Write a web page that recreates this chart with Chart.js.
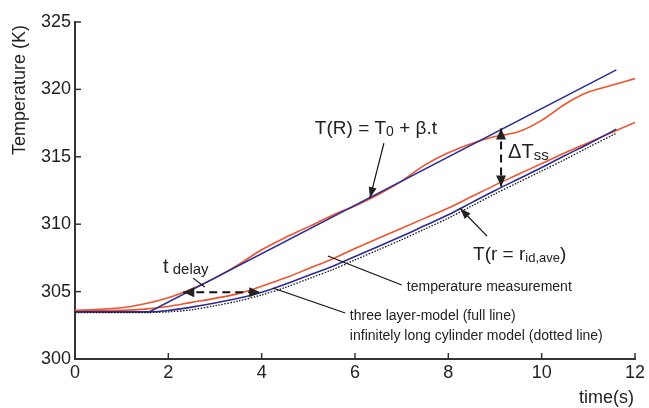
<!DOCTYPE html>
<html>
<head>
<meta charset="utf-8">
<script src="https://cdn.jsdelivr.net/npm/chart.js@4.4.1/dist/chart.umd.min.js"></script>
<style>
  body { margin: 0; background: #fff; }
  canvas { display: block; }
</style>
</head>
<body>
<canvas id="tempChart" width="649" height="408"></canvas>
<script>
  // measured temperature at the outer surface (red, upper)
  const surfMeasTime = [0, 1, 1.5, 2, 2.5, 3, 3.5, 4, 4.5, 5, 5.6, 6, 6.5, 7, 7.5, 8, 8.6, 9, 9.5, 10, 10.5, 11, 11.5, 12];
  const surfMeasTemp = [303.6, 303.8, 304.1, 304.55, 305.2, 306.0, 307.0, 308.1, 309.0, 309.8, 310.8, 311.35, 312.2, 313.2, 314.4, 315.3, 316.1, 316.5, 316.85, 317.7, 318.9, 319.8, 320.3, 320.8];

  // measured temperature at the inner radius (red, lower)
  const innerMeasTime = [0, 1, 1.5, 2, 2.5, 3, 3.5, 4, 4.5, 5, 5.5, 6, 6.5, 7, 7.5, 8, 8.5, 9, 9.5, 10, 10.5, 11, 11.5, 12];
  const innerMeasTemp = [303.6, 303.62, 303.7, 303.9, 304.2, 304.5, 304.85, 305.4, 306.0, 306.7, 307.4, 308.2, 308.95, 309.7, 310.45, 311.2, 312.05, 312.9, 313.7, 314.5, 315.3, 316.05, 316.8, 317.55];

  // imposed boundary temperature T(R) = T0 + beta.t (blue, upper)
  const rampTime = [0, 1.6, 11.6];
  const rampTemp = [303.5, 303.5, 321.45];

  // three layer model at r = r_id,ave (blue, lower)
  const layerTime = [0, 1.6, 2, 2.5, 3, 3.5, 4, 4.5, 5, 5.5, 6, 6.5, 7, 7.5, 8, 8.5, 9, 9.5, 10, 10.5, 11, 11.6];
  const layerTemp = [303.5, 303.5, 303.6, 303.85, 304.15, 304.5, 304.95, 305.55, 306.2, 306.85, 307.6, 308.35, 309.1, 309.9, 310.7, 311.6, 312.5, 313.35, 314.2, 315.1, 315.95, 317.05];

  // infinitely long cylinder model (dotted)
  const cylTime = [0, 1.6, 2, 2.5, 3, 3.5, 4, 4.5, 5, 5.5, 6, 6.5, 7, 7.5, 8, 8.5, 9, 9.5, 10, 10.5, 11, 11.6];
  const cylTemp = [303.45, 303.45, 303.5, 303.65, 303.95, 304.3, 304.75, 305.3, 305.95, 306.6, 307.35, 308.1, 308.85, 309.65, 310.45, 311.35, 312.25, 313.1, 313.95, 314.8, 315.7, 316.75];

  const xTicks = [0, 2, 4, 6, 8, 10, 12];
  const yTicks = [300, 305, 310, 315, 320, 325];

  const RED = '#f0532c';
  const BLUE = '#2b2c96';
  const FONT = '"Liberation Sans", Arial, Helvetica, sans-serif';

  function pts(xs, ys) {
    return xs.map((x, i) => ({ x: x, y: ys[i] }));
  }

  // text with sub parts: [text, size, dy]
  function rich(ctx, x, y, parts) {
    parts.forEach(p => {
      ctx.font = p[1] + 'px ' + FONT;
      ctx.fillText(p[0], x, y + (p[2] || 0));
      x += ctx.measureText(p[0]).width;
    });
  }

  function head(ctx, x1, y1, x2, y2, len, w) {
    const a = Math.atan2(y2 - y1, x2 - x1);
    ctx.beginPath();
    ctx.moveTo(x2, y2);
    ctx.lineTo(x2 - len * Math.cos(a) + w * Math.sin(a), y2 - len * Math.sin(a) - w * Math.cos(a));
    ctx.lineTo(x2 - len * Math.cos(a) - w * Math.sin(a), y2 - len * Math.sin(a) + w * Math.cos(a));
    ctx.closePath();
    ctx.fill();
  }

  function arrow(ctx, x1, y1, x2, y2, opts) {
    opts = opts || {};
    ctx.save();
    ctx.lineWidth = opts.width || 1.2;
    ctx.setLineDash(opts.dash || []);
    ctx.beginPath();
    ctx.moveTo(x1, y1);
    ctx.lineTo(x2, y2);
    ctx.stroke();
    ctx.setLineDash([]);
    if (opts.end) head(ctx, x1, y1, x2, y2, opts.len || 10, opts.half || 4);
    if (opts.start) head(ctx, x2, y2, x1, y1, opts.len || 10, opts.half || 4);
    ctx.restore();
  }

  const notes = {
    id: 'notes',
    afterDraw(chart) {
      const ctx = chart.ctx;
      const xs = chart.scales.x, ys = chart.scales.y;
      const X = v => xs.getPixelForValue(v);
      const Y = v => ys.getPixelForValue(v);
      const area = chart.chartArea;

      ctx.save();
      // inward tick marks
      ctx.strokeStyle = '#333';
      ctx.lineWidth = 1.5;
      xTicks.forEach(t => {
        ctx.beginPath();
        ctx.moveTo(X(t), area.bottom);
        ctx.lineTo(X(t), area.bottom - 6);
        ctx.stroke();
      });
      yTicks.forEach(t => {
        ctx.beginPath();
        ctx.moveTo(area.left, Y(t));
        ctx.lineTo(area.left + 6, Y(t));
        ctx.stroke();
      });

      ctx.fillStyle = '#222';
      ctx.strokeStyle = '#111';
      ctx.textBaseline = 'alphabetic';
      ctx.textAlign = 'left';

      // axis titles
      ctx.font = '18px ' + FONT;
      ctx.save();
      ctx.translate(25, 155);
      ctx.rotate(-Math.PI / 2);
      ctx.fillText('Temperature (K)', 0, 0);
      ctx.restore();
      ctx.textAlign = 'right';
      ctx.fillText('time(s)', 634, 403);
      ctx.textAlign = 'left';

      // T(R) label and arrow
      rich(ctx, X(5.14), Y(316.69), [['T(R) = T', 19], ['0', 14, 2], [' + \u03b2.t', 19]]);
      arrow(ctx, X(6.62), Y(316.02), X(6.32), Y(311.94), { end: true, len: 11, half: 4 });

      // t delay
      rich(ctx, X(1.886), Y(306.38), [['t', 20], [' delay', 15, 1]]);
      arrow(ctx, X(2.53), Y(306.0), X(2.78), Y(305.34), {});
      arrow(ctx, X(2.32), Y(304.95), X(3.97), Y(304.95), { start: true, end: true, dash: [8, 5], width: 2, len: 11, half: 5 });

      // delta T ss
      arrow(ctx, X(9.13), Y(317.1), X(9.13), Y(312.8), { start: true, end: true, dash: [8, 5], width: 2, len: 11, half: 5 });
      rich(ctx, X(9.28), Y(314.91), [['\u0394T', 20], ['ss', 15, 2]]);

      // T(r = r id,ave)
      rich(ctx, X(8.53), Y(307.34), [['T(r = r', 19], ['id,ave', 13, 2], [')', 19]]);
      arrow(ctx, X(8.83), Y(309.12), X(8.25), Y(311.18), { end: true, len: 11, half: 4 });

      // temperature measurement
      ctx.font = '14px ' + FONT;
      ctx.fillText('temperature measurement', X(7.11), Y(305.04));
      arrow(ctx, X(5.42), Y(307.64), X(7.0), Y(305.49), {});

      // models
      ctx.fillText('three layer-model (full line)', X(5.89), Y(302.89));
      ctx.fillText('infinitely long cylinder model (dotted line)', X(5.89), Y(301.41));
      arrow(ctx, X(4.24), Y(305.27), X(5.79), Y(303.41), {});
      ctx.restore();
    }
  };

  const ctx = document.getElementById('tempChart').getContext('2d');
  new Chart(ctx, {
    type: 'line',
    data: {
      datasets: [
        { data: pts(cylTime, cylTemp), borderColor: '#111', borderWidth: 1.3, borderDash: [1.5, 1.5], tension: 0.3 },
        { data: pts(layerTime, layerTemp), borderColor: BLUE, borderWidth: 1.6, tension: 0.3 },
        { data: pts(rampTime, rampTemp), borderColor: BLUE, borderWidth: 1.6, tension: 0 },
        { data: pts(innerMeasTime, innerMeasTemp), borderColor: RED, borderWidth: 1.6, cubicInterpolationMode: 'monotone' },
        { data: pts(surfMeasTime, surfMeasTemp), borderColor: RED, borderWidth: 1.6, cubicInterpolationMode: 'monotone' }
      ]
    },
    options: {
      responsive: false,
      animation: false,
      layout: { padding: { top: 22, right: 14, left: 0, bottom: 0 } },
      elements: { point: { radius: 0 } },
      plugins: { legend: { display: false }, tooltip: { enabled: false } },
      scales: {
        x: {
          type: 'linear', min: 0, max: 12,
          afterFit: s => { s.height = 49; },
          afterBuildTicks: s => { s.ticks = xTicks.map(v => ({ value: v })); },
          ticks: { font: { size: 18, family: FONT }, color: '#222', padding: 3, maxRotation: 0 },
          grid: { display: false, drawTicks: false },
          border: { display: true, color: '#333', width: 2 }
        },
        y: {
          type: 'linear', min: 300, max: 325,
          afterFit: s => { s.width = 75; },
          afterBuildTicks: s => { s.ticks = yTicks.map(v => ({ value: v })); },
          ticks: { font: { size: 18, family: FONT }, color: '#222', padding: 4 },
          grid: { display: false, drawTicks: false },
          border: { display: true, color: '#333', width: 2 }
        }
      }
    },
    plugins: [notes]
  });
</script>
</body>
</html>
